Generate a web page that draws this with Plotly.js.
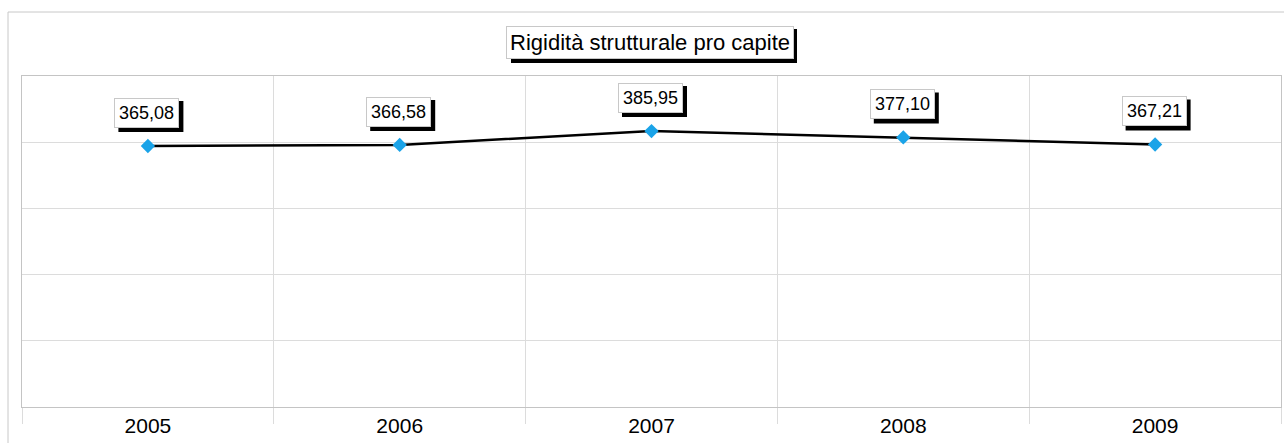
<!DOCTYPE html>
<html>
<head>
<meta charset="utf-8">
<script src="https://cdn.plot.ly/plotly-3.0.1.min.js"></script>
<style>
  html, body { margin: 0; padding: 0; background: #fff; }
  #chart { width: 1284px; height: 443px; }
</style>
</head>
<body>
<div id="chart"></div>
<script>
const years = ['2005', '2006', '2007', '2008', '2009'];
const values = [365.08, 366.58, 385.95, 377.10, 367.21];
const chartTitle = 'Rigidità strutturale pro capite';

const fmt = v => v.toFixed(2).replace('.', ',');
const FONT = 'Liberation Sans, Arial, sans-serif';

const trace = {
  x: years,
  y: values,
  type: 'scatter',
  mode: 'lines+markers',
  line: { color: '#000000', width: 2.5 },
  marker: { symbol: 'diamond', size: 11, color: '#1aa3e8' },
  hoverinfo: 'x+y'
};

const annotations = [];
const shapes = [];

// outer chart border
shapes.push({
  type: 'rect', xref: 'paper', yref: 'paper',
  x0: -14 / 1259, x1: 1.02, y0: -0.2, y1: (407 - 12) / 331,
  line: { color: '#c8c8c8', width: 1 }, fillcolor: 'rgba(0,0,0,0)', layer: 'below'
});

years.forEach((yr, i) => {
  // shadow of the data label box
  shapes.push({
    type: 'rect', xref: 'x', yref: 'y',
    xsizemode: 'pixel', ysizemode: 'pixel',
    xanchor: i, yanchor: values[i],
    x0: -29.5, x1: 35.5, y0: 14, y1: 45,
    fillcolor: '#000', line: { width: 0 }, layer: 'above'
  });
  annotations.push({
    x: i, y: values[i], xref: 'x', yref: 'y',
    text: fmt(values[i]), showarrow: false, yanchor: 'bottom', xanchor: 'center',
    xshift: -1, yshift: 18,
    font: { family: FONT, size: 18, color: '#000' },
    bgcolor: '#fff', bordercolor: '#c8c8c8', borderwidth: 1, borderpad: 4
  });
});

// title shadow + box
shapes.push({
  type: 'rect', xref: 'paper', yref: 'paper',
  xsizemode: 'pixel', ysizemode: 'pixel',
  xanchor: 0.5, yanchor: 1,
  x0: -140.5, x1: 145.5, y0: 13, y1: 47,
  fillcolor: '#000', line: { width: 0 }, layer: 'above'
});
annotations.push({
  x: 0.5, y: 1, xref: 'paper', yref: 'paper',
  text: chartTitle, showarrow: false, yanchor: 'bottom', xanchor: 'center',
  xshift: -1.5, yshift: 17,
  font: { family: FONT, size: 22, color: '#000' },
  bgcolor: '#fff', bordercolor: '#c8c8c8', borderwidth: 1, borderpad: 3
});

const layout = {
  width: 1284, height: 443,
  margin: { l: 22, r: 3, t: 76, b: 36 },
  paper_bgcolor: '#fff', plot_bgcolor: '#fff',
  showlegend: false,
  font: { family: FONT, color: '#000' },
  xaxis: {
    type: 'category',
    range: [-0.5, 4.5],
    tickson: 'boundaries',
    showgrid: true, gridcolor: '#dcdcdc', gridwidth: 1,
    ticks: 'outside', ticklen: 16, tickcolor: '#dcdcdc', tickwidth: 1,
    showline: true, linecolor: '#c4c4c4', linewidth: 1, mirror: true,
    tickfont: { family: FONT, size: 21, color: '#000' },
    zeroline: false, fixedrange: true
  },
  yaxis: {
    range: [0, 463],
    tick0: 0, dtick: 92.6,
    showgrid: true, gridcolor: '#dcdcdc', gridwidth: 1,
    showticklabels: false, ticks: '',
    showline: true, linecolor: '#c4c4c4', linewidth: 1, mirror: true,
    zeroline: false, fixedrange: true
  },
  shapes: shapes,
  annotations: annotations
};

Plotly.newPlot('chart', [trace], layout, { displayModeBar: false, staticPlot: true });
</script>
</body>
</html>
